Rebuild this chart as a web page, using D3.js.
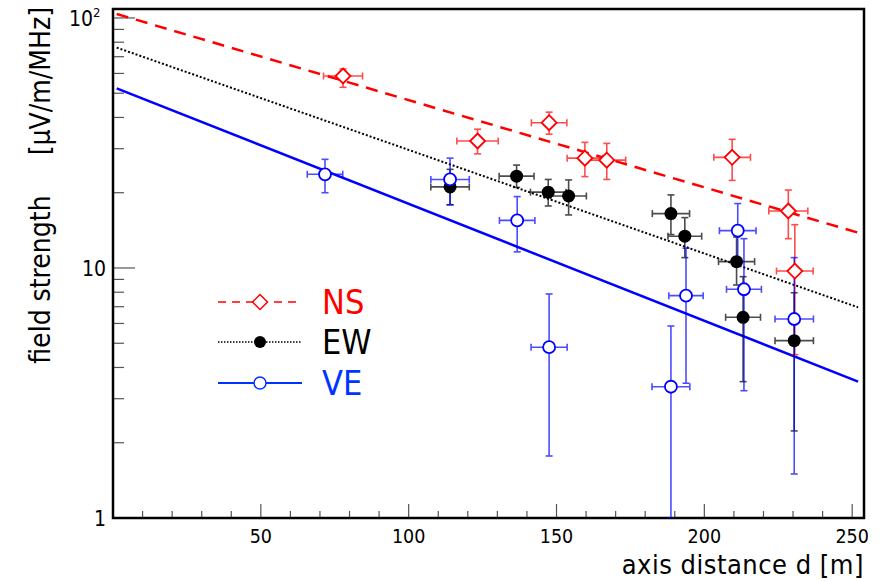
<!DOCTYPE html>
<html>
<head>
  <meta charset="utf-8">
  <title>field strength vs axis distance</title>
  <script src="https://d3js.org/d3.v7.min.js"></script>
  <style>
    body { margin: 0; background: #fff; }
    text { font-family: "DejaVu Sans Condensed", "DejaVu Sans", sans-serif; }
  </style>
</head>
<body>
<script>
// --- data ---
var nsD    = [77.8, 123.3, 147.5, 159.6, 167.0, 209.4, 228.4, 230.6];
var nsV    = [58.6, 32.2, 38.1, 27.5, 27.0, 27.7, 16.9, 9.72];
var nsLo   = [52.8, 28.6, 34.3, 23.2, 22.6, 22.4, 13.1, 4.5];
var nsHi   = [62.5, 35.9, 42.0, 31.8, 31.5, 32.7, 20.5, 14.9];
var nsDErr = [6.6, 7.0, 6.0, 6.0, 6.4, 6.2, 6.6, 6.2];

var ewD    = [114.0, 136.5, 147.2, 154.1, 188.7, 193.4, 210.9, 213.1, 230.4];
var ewV    = [21.1, 23.3, 20.1, 19.4, 16.5, 13.4, 10.6, 6.35, 5.12];
var ewLo   = [17.9, 21.0, 17.7, 16.3, 13.6, 11.0, 8.55, 3.51, 2.23];
var ewHi   = [24.8, 25.8, 22.6, 22.5, 19.6, 15.9, 13.3, 9.23, 7.96];
var ewDErr = [6.5, 5.9, 6.0, 6.0, 6.3, 5.7, 6.1, 5.9, 6.5];

var veD    = [71.7, 114.0, 136.7, 147.5, 188.7, 193.8, 211.3, 213.4, 230.4];
var veV    = [23.7, 22.6, 15.5, 4.82, 3.35, 7.75, 14.1, 8.22, 6.25];
var veLo   = [20.0, 17.9, 11.6, 1.77, 1.0, 3.46, 10.5, 3.23, 1.50];
var veHi   = [27.2, 27.5, 19.3, 7.87, 5.86, 12.0, 18.1, 13.1, 11.0];
var veDErr = [6.0, 6.5, 6.0, 6.1, 6.4, 5.8, 6.2, 5.9, 6.5];

// fitted lines (end points)
var nsFitD = [1.25, 252], nsFitV = [103.7, 13.84];
var ewFitD = [1.25, 252], ewFitV = [76.1, 6.96];
var veFitD = [1.25, 252], veFitV = [52.3, 3.51];

var xTicksMajor = [50, 100, 150, 200, 250];
var yTickLabels = [[1, "1"], [10, "10"], [100, "10", "2"]];

var legendNames = ["NS", "EW", "VE"];

// --- layout ---
var W = 881, H = 581;
var L = 113, R = 864, T = 9, B = 518;

var svg = d3.select("body").append("svg").attr("width", W).attr("height", H);

var x = d3.scaleLinear().domain([0, 254]).range([L, R]);
var y = d3.scaleLog().domain([1, 108.6]).range([B, T]);

svg.append("clipPath").attr("id", "clip")
  .append("rect").attr("x", L).attr("y", T).attr("width", R - L).attr("height", B - T);

// ticks
var xt = svg.append("g");
d3.range(10, 251, 10).forEach(function(v) {
  var major = v % 50 === 0;
  xt.append("line").attr("x1", x(v)).attr("x2", x(v))
    .attr("y1", B).attr("y2", B - (major ? 14 : 7))
    .attr("stroke", "#555").attr("stroke-width", 1.2);
});
xTicksMajor.forEach(function(v) {
  xt.append("text").attr("x", x(v)).attr("y", 543)
    .attr("text-anchor", "middle").attr("font-size", 19.5).text(v);
});

var yt = svg.append("g");
[1, 10].forEach(function(dec) {
  d3.range(2, 11).forEach(function(m) {
    var v = dec * m;
    if (v > 108) return;
    var major = m === 10;
    yt.append("line").attr("x1", L).attr("x2", L + (major ? 22 : 11))
      .attr("y1", y(v)).attr("y2", y(v))
      .attr("stroke", "#555").attr("stroke-width", 1.2);
  });
});
yTickLabels.forEach(function(t) {
  yt.append("text").attr("x", t[2] ? 93 : 106).attr("y", y(t[0]) + 8)
    .attr("text-anchor", "end").attr("font-size", 21).text(t[1]);
  if (t[2]) {
    yt.append("text").attr("x", 93).attr("y", y(t[0]) - 1)
      .attr("font-size", 13).text(t[2]);
  }
});

// frame
svg.append("rect").attr("x", L).attr("y", T).attr("width", R - L).attr("height", B - T)
  .attr("fill", "none").attr("stroke", "#000").attr("stroke-width", 2.5);

// axis titles
svg.append("text").attr("x", R).attr("y", 574).attr("text-anchor", "end")
  .attr("font-size", 27).attr("letter-spacing", 0.5).text("axis distance d [m]");
svg.append("text").attr("transform", "translate(50,7) rotate(-90)")
  .attr("text-anchor", "end").attr("font-size", 28)
  .attr("xml:space", "preserve")
  .text("field strength     [\u03bcV/m/MHz]");

var plot = svg.append("g").attr("clip-path", "url(#clip)");

function fitLine(ds, vs, color, dash, w) {
  plot.append("path")
    .datum(ds.map(function(d, i) { return [d, vs[i]]; }))
    .attr("d", d3.line().x(function(p) { return x(p[0]); }).y(function(p) { return y(p[1]); }))
    .attr("fill", "none").attr("stroke", color).attr("stroke-width", w)
    .attr("stroke-dasharray", dash);
}
fitLine(nsFitD, nsFitV, "#ff0000", "12,8", 2.5);
fitLine(ewFitD, ewFitV, "#000000", "2,2", 2);
fitLine(veFitD, veFitV, "#0000ff", null, 2.5);

function errors(ds, vs, lo, hi, de, color) {
  var g = plot.append("g").attr("stroke", color).attr("stroke-width", 1.6).attr("opacity", 0.7);
  ds.forEach(function(d, i) {
    var cx = x(d), cy = y(vs[i]);
    var x0 = x(d - de[i]), x1 = x(d + de[i]);
    var y0 = y(lo[i]), y1 = y(hi[i]);
    g.append("line").attr("x1", x0).attr("x2", x1).attr("y1", cy).attr("y2", cy);
    g.append("line").attr("x1", cx).attr("x2", cx).attr("y1", y0).attr("y2", y1);
    g.append("line").attr("x1", x0).attr("x2", x0).attr("y1", cy - 3.5).attr("y2", cy + 3.5);
    g.append("line").attr("x1", x1).attr("x2", x1).attr("y1", cy - 3.5).attr("y2", cy + 3.5);
    g.append("line").attr("x1", cx - 3.5).attr("x2", cx + 3.5).attr("y1", y0).attr("y2", y0);
    g.append("line").attr("x1", cx - 3.5).attr("x2", cx + 3.5).attr("y1", y1).attr("y2", y1);
  });
}
errors(nsD, nsV, nsLo, nsHi, nsDErr, "#ff0000");
errors(ewD, ewV, ewLo, ewHi, ewDErr, "#000000");
errors(veD, veV, veLo, veHi, veDErr, "#0000ff");

var diamond = "M0,-7.5L7.5,0L0,7.5L-7.5,0Z";
function markers(ds, vs, kind) {
  var sel = plot.append("g").selectAll("path").data(ds).enter();
  if (kind === "ns") {
    sel.append("path").attr("d", diamond)
      .attr("transform", function(d, i) { return "translate(" + x(d) + "," + y(vs[i]) + ")"; })
      .attr("fill", "#fff").attr("stroke", "#ff0000").attr("stroke-width", 1.8);
  } else if (kind === "ew") {
    sel.append("circle").attr("cx", function(d) { return x(d); })
      .attr("cy", function(d, i) { return y(vs[i]); }).attr("r", 6.5).attr("fill", "#000");
  } else {
    sel.append("circle").attr("cx", function(d) { return x(d); })
      .attr("cy", function(d, i) { return y(vs[i]); }).attr("r", 6)
      .attr("fill", "#fff").attr("stroke", "#0000ff").attr("stroke-width", 1.8);
  }
}
markers(ewD, ewV, "ew");
markers(veD, veV, "ve");
markers(nsD, nsV, "ns");

// legend
var lg = svg.append("g");
var legY = [302, 342, 383];
var legColor = ["#ff0000", "#000000", "#0033ff"];
lg.append("line").attr("x1", 218).attr("x2", 302).attr("y1", legY[0]).attr("y2", legY[0])
  .attr("stroke", "#ff0000").attr("stroke-width", 1.5).attr("stroke-dasharray", "8,6");
lg.append("path").attr("d", diamond).attr("transform", "translate(260," + legY[0] + ")")
  .attr("fill", "#fff").attr("stroke", "#ff0000").attr("stroke-width", 1.5);
lg.append("line").attr("x1", 218).attr("x2", 302).attr("y1", legY[1]).attr("y2", legY[1])
  .attr("stroke", "#000").attr("stroke-width", 1.5).attr("stroke-dasharray", "1.5,1.5");
lg.append("circle").attr("cx", 260).attr("cy", legY[1]).attr("r", 6).attr("fill", "#000");
lg.append("line").attr("x1", 218).attr("x2", 302).attr("y1", legY[2]).attr("y2", legY[2])
  .attr("stroke", "#0033ff").attr("stroke-width", 2);
lg.append("circle").attr("cx", 260).attr("cy", legY[2]).attr("r", 6)
  .attr("fill", "#fff").attr("stroke", "#0033ff").attr("stroke-width", 1.5);
legendNames.forEach(function(n, i) {
  lg.append("text").attr("x", 322).attr("y", legY[i] + 12).attr("font-size", 34)
    .attr("fill", legColor[i]).text(n);
});
</script>
</body>
</html>
